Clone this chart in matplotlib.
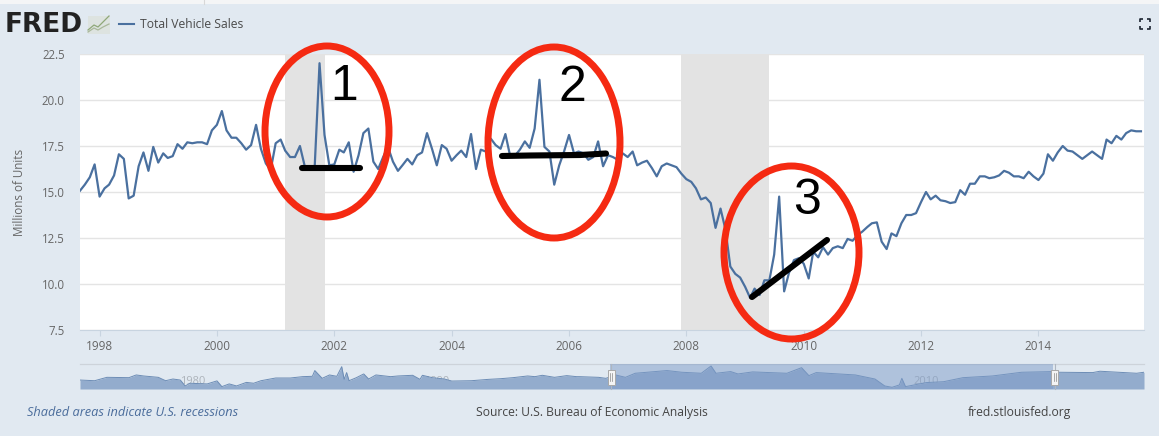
import numpy as np
import pandas as pd
import matplotlib
matplotlib.use("Agg")
import matplotlib.pyplot as plt
from matplotlib.patches import Ellipse, Rectangle

plt.rcParams['font.family'] = ['Open Sans', 'DejaVu Sans']

sales = [
 15.07,15.4,15.8,16.5,14.75,15.2,15.4,15.9,17.05,16.8,14.65,14.8,16.4,17.15,16.15,17.45,16.6,17.1,16.85,16.95,
 17.6,17.35,17.7,17.65,17.7,17.7,17.6,18.35,18.65,19.4,18.35,17.95,17.95,17.65,17.3,17.55,18.65,17.35,16.55,16.2,
 17.65,17.85,17.25,16.9,16.9,17.5,16.4,16.4,16.4,22.0,18.1,16.45,16.5,17.3,17.15,17.7,16.1,17.0,18.2,18.45,
 16.65,16.25,16.9,17.45,16.65,16.15,16.45,16.8,16.5,17.0,17.15,18.2,17.35,16.45,17.55,17.35,16.7,17.0,17.25,16.9,
 18.15,16.25,17.3,17.2,17.9,17.55,17.35,18.15,16.9,17.0,17.3,17.75,17.4,18.45,21.1,17.45,17.2,15.4,16.45,17.2,
 18.1,17.1,17.2,17.1,16.75,16.9,17.75,16.4,17.0,16.9,16.75,17.1,16.9,17.2,16.45,16.6,16.7,16.3,15.85,16.4,
 16.55,16.45,16.35,16.0,15.7,15.55,15.2,14.6,14.7,14.4,13.05,14.1,12.95,10.95,10.55,10.35,9.85,9.25,9.75,9.4,
 10.2,10.2,11.6,14.75,9.6,10.6,11.3,11.4,11.1,10.3,11.75,11.45,12.0,11.6,11.95,12.05,11.95,12.45,12.35,12.65,
 12.85,13.1,13.3,13.35,12.3,11.9,12.75,12.6,13.3,13.75,13.75,13.85,14.45,15.0,14.6,14.8,14.55,14.5,14.4,14.45,
 15.1,14.85,15.45,15.45,15.85,15.85,15.75,15.8,15.9,16.15,16.05,15.85,15.85,15.75,16.1,15.85,15.65,16.0,17.05,16.7,
 17.15,17.5,17.25,17.2,17.0,16.8,17.0,17.2,17.0,16.8,17.85,17.65,18.05,17.85,18.2,18.35,18.3,18.3,
]
y_ticks = [7.5, 10.0, 12.5, 15.0, 17.5, 20.0, 22.5]
x_tick_years = [1998, 2000, 2002, 2004, 2006, 2008, 2010, 2012, 2014]
recessions = [("2001-03-01", "2001-11-01"), ("2007-12-01", "2009-06-01")]

nav_years = [1976.0,1976.6,1977.1,1978.0,1978.3,1978.6,1979.2,1979.5,1979.8,1980.1,1980.3,1980.5,1981.2,1981.6,1981.8,
 1982.1,1982.4,1982.8,1983.1,1983.4,1984.0,1984.6,1985.1,1985.5,1985.6,1985.9,1986.2,1986.5,1986.7,1986.8,1986.9,
 1987.0,1987.3,1987.6,1987.8,1988.1,1988.7,1989.0,1989.3,1989.6,1989.9,1990.0,1990.4,1990.9,1991.2,1992.0,1992.7,
 1993.2,1993.7,1994.3,1994.6,1994.9,1995.4,1995.9,1996.3,1996.4,1997.2,1997.5,1997.9,1998.3,1998.7,2000.0,2000.6,
 2001.4,2001.8,2002.0,2002.6,2002.9,2003.5,2004.9,2005.5,2005.8,2006.1,2007.7,2008.5,2008.9,2009.2,2009.5,2009.6,
 2009.75,2010.6,2011.3,2012.1,2013.3,2014.5,2015.8,2016.0,2017.4,2017.7,2018.7,2019.2,2019.5]
nav_values = [13.5,13.1,15.1,14.9,16.5,15.9,15.1,13.1,14.1,13.5,10.0,11.6,11.2,13.0,9.6,
 11.2,10.0,12.1,11.6,13.1,14.7,14.7,15.5,15.7,19.1,14.5,16.5,15.7,21.4,13.9,17.9,
 13.1,14.9,17.1,14.1,16.5,15.5,15.9,16.1,16.3,13.9,16.3,14.9,14.1,12.9,13.1,13.9,
 14.3,14.9,15.9,15.5,16.3,15.1,16.1,15.5,15.5,15.1,14.5,16.5,15.1,17.5,19.1,18.1,
 17.5,21.8,17.5,18.5,17.1,18.3,17.5,20.8,16.1,17.9,16.5,14.1,10.0,9.2,10.6,14.5,
 9.6,12.0,12.5,14.9,15.9,18.1,18.5,18.1,17.9,18.7,17.9,17.5,18.1]
nav_labels = [1980, 1990, 2000, 2010]
nav_window = (1997.67, 2015.8)

BG = '#E1E9F1'
LINE = '#4A709F'
TXT = '#666666'
W, H = 1159, 436

fig = plt.figure(figsize=(W/100, H/100), dpi=100, facecolor=BG)

def rect(l, t, r, b):
    return [l/W, 1-b/H, (r-l)/W, (b-t)/H]

# main plot
ax = fig.add_axes(rect(80, 54, 1144, 330), facecolor='white')
dates = pd.date_range('1997-09-01', periods=len(sales), freq='MS')
for a, b in recessions:
    ax.axvspan(pd.Timestamp(a), pd.Timestamp(b), color='#E3E3E3', lw=0, zorder=2)
ax.plot(dates, sales, color=LINE, lw=1.6, zorder=3)
ax.set_xlim(pd.Timestamp('1997-09-01'), pd.Timestamp('2015-10-20'))
ax.set_ylim(7.5, 22.5)
ax.set_yticks(y_ticks)
ax.set_yticklabels([f'{v:.1f}' for v in y_ticks])
ax.set_xticks([pd.Timestamp(f'{y}-01-01') for y in x_tick_years])
ax.set_xticklabels([str(y) for y in x_tick_years])
ax.grid(axis='y', color='#E4E4E4', lw=1, zorder=1)
ax.set_axisbelow(True)
for s in ['top', 'left', 'right']:
    ax.spines[s].set_visible(False)
ax.spines['bottom'].set_color('#C8D4E0')
ax.tick_params(axis='y', length=0, pad=11, labelsize=8.3, labelcolor=TXT)
ax.tick_params(axis='x', length=4, width=0.8, color='#C8D4E0', pad=3, labelsize=8.5, labelcolor=TXT)
ax.set_ylabel('Millions of Units', fontsize=8.4, color=TXT)
ax.yaxis.set_label_coords((26-80)/1064, 0.5)

# navigator
nav = fig.add_axes(rect(80, 364.3, 1144, 389), facecolor='none')
nav.fill_between(nav_years, nav_values, 8.2, color='#93ACCD', lw=0, zorder=2)
nav.plot(nav_years, nav_values, color='#6C8CB5', lw=0.7, zorder=3)
nav.axvspan(nav_window[0], nav_window[1], color='#7E9CC8', alpha=0.5, lw=0, zorder=4)
nav.set_xlim(1976.0, 2019.5)
nav.set_ylim(8.2, 22.8)
nav.axis('off')
nav.plot([0, 1], [1, 1], transform=nav.transAxes, color='#CDD3DA', lw=0.9, zorder=1, clip_on=False)
for yr in nav_labels:
    nav.text(yr + 0.6, 12.6, str(yr), color='#8A8F96', alpha=0.6, fontsize=8, ha='center', va='center', zorder=1)

# overlay in pixel space
ov = fig.add_axes([0, 0, 1, 1], facecolor='none')
ov.set_xlim(0, W)
ov.set_ylim(H, 0)
ov.axis('off')

# top strip
ov.add_patch(Rectangle((0, 0), W, 4, color='#F4F5F6', lw=0))
ov.plot([204, 204], [0, 4], color='#D8D8D8', lw=0.8)

# handles on navigator
for hx in (611, 1054.5):
    ov.plot([hx, hx], [364.3, 389], color='#AEB6C0', lw=0.8)
    ov.add_patch(Rectangle((hx-3.5, 370), 7, 14.5, fc='#F4F4F4', ec='#A8A8A8', lw=0.7, zorder=5))
    ov.plot([hx-1, hx-1], [373, 381], color='#888888', lw=0.5, zorder=6)
    ov.plot([hx+1, hx+1], [373, 381], color='#888888', lw=0.5, zorder=6)

# header
ov.text(5, 25.5, 'FRED', family=['DejaVu Sans'], weight='bold', fontsize=19, color='#222222', va='center', ha='left')
ov.add_patch(Rectangle((88, 16), 22, 18, fc='#DDE3E0', ec='none'))
ov.plot([88, 94, 98, 103, 109], [30, 25, 27, 22, 16], color='#8FA878', lw=0.9)
ov.plot([88, 94, 98, 103, 109], [32, 28, 30, 27, 24], color='#A9B89A', lw=0.9)
ov.plot([119, 134], [24.5, 24.5], color=LINE, lw=1.5)
ov.text(140, 25, 'Total Vehicle Sales', fontsize=8.7, color='#4A4A4A', va='center', ha='left')

# fullscreen icon
for cx, sx in ((1140, 1), (1150, -1)):
    for cy, sy in ((19.5, 1), (29.5, -1)):
        ov.plot([cx + 3*sx, cx, cx], [cy, cy, cy + 3*sy], color='#1C2430', lw=1.2, solid_capstyle='butt')

# footer
ov.text(27, 412.5, 'Shaded areas indicate U.S. recessions', fontsize=9.2, style='italic', color='#4A6C9B', va='center')
ov.text(476, 412.5, 'Source: U.S. Bureau of Economic Analysis', fontsize=8.7, color='#444444', va='center')
ov.text(968, 412.5, 'fred.stlouisfed.org', fontsize=8.75, color='#444444', va='center')

# hand-drawn annotations
for cx, cy, w, h in ((327, 131.5, 124, 171), (554, 142.5, 132, 191), (791.5, 252.5, 135, 173)):
    ov.add_patch(Ellipse((cx, cy), w, h, fc='none', ec='#F52A12', lw=5, zorder=7))
for xs, ys in (([302, 360], [168, 168]), ([502, 530, 580, 606], [156, 155.5, 155, 153.5]), ([752, 827], [297, 240])):
    ov.plot(xs, ys, color='black', lw=4.4, solid_capstyle='round', zorder=8)
for s, x, y in (('1', 344, 87), ('2', 572, 88), ('3', 807, 201)):
    ov.text(x, y, s, family=['Liberation Sans'], fontsize=36, color='black', ha='center', va='center', zorder=9)

fig.savefig('out.png', dpi=100, facecolor=BG)
